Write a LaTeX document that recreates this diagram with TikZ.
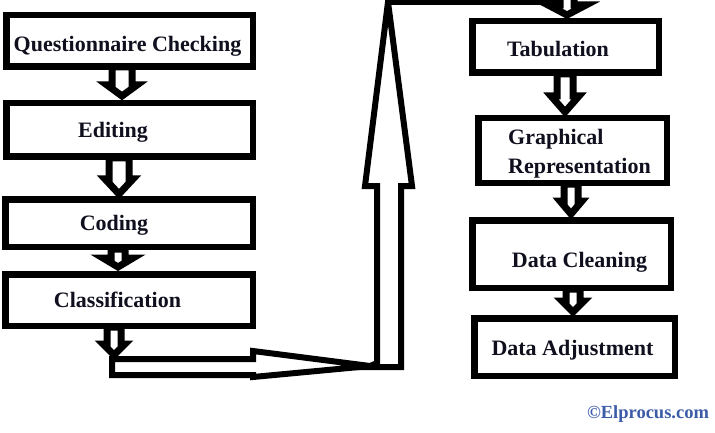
\documentclass[tikz,border=0pt]{standalone}
\usepackage{fontspec}
\setmainfont{Liberation Serif}
\definecolor{wm}{RGB}{60,92,168}
\definecolor{ink}{RGB}{15,15,30}
\newcommand\hdown[6]{\draw[harrow] (#1-#4,#2) -- (#1-#4,#5) -- (#1-#3,#5) -- (#1,#6) -- (#1+#3,#5) -- (#1+#4,#5) -- (#1+#4,#2) -- cycle;}
\begin{document}
\begin{tikzpicture}[x=1pt,y=-1pt,
  box/.style={draw=black,line width=6.5pt,fill=white,inner sep=0pt,rectangle},
  lbl/.style={anchor=base,inner sep=0pt,text=ink,font=\fontsize{22}{28}\selectfont\bfseries},
  harrow/.style={draw=black,line width=7pt,fill=white}]
\useasboundingbox (0,0) rectangle (715,433);
\clip (0,0) rectangle (715,433);
% left column boxes
\node[box,minimum width=246.5pt,minimum height=51.5pt] (qc) at (129.5,41) {};
\node[box,minimum width=246.5pt,minimum height=53.5pt] (ed) at (129.5,130) {};
\node[box,minimum width=247.5pt,minimum height=47.5pt] (co) at (129,223) {};
\node[box,minimum width=247.5pt,minimum height=51.5pt] (cl) at (129,300) {};
% right column boxes
\node[box,minimum width=186.5pt,minimum height=51.5pt] (ta) at (565.5,47) {};
\node[box,minimum width=188.5pt,minimum height=64.5pt] (gr) at (572.5,150.5) {};
\node[box,minimum width=198.5pt,minimum height=67.5pt] (dc) at (571.5,254) {};
\node[box,minimum width=200.5pt,minimum height=57.5pt] (da) at (574.5,347) {};
% labels
\node[lbl] (tqc) at (127.5,52) {Questionnaire Checking};
\node[lbl] (ted) at (113,138) {Editing};
\node[lbl] (tco) at (114,230) {Coding};
\node[lbl] (tcl) at (117.5,307) {Classification};
\node[lbl] (tta) at (558,57) {Tabulation};
\node[lbl,anchor=base west] (tgr1) at (508,145) {Graphical};
\node[lbl,anchor=base west] (tgr2) at (508,173) {Representation};
\node[lbl] (tdc) at (579.5,267) {Data Cleaning};
\node[lbl] (tda) at (572.5,355) {Data Adjustment};
\node[anchor=base,inner sep=0pt,text=wm,font=\fontsize{18.5}{22}\selectfont\bfseries] (wm) at (648,418) {©Elprocus.com};
% hollow arrows between boxes: x, top, headhalf, shafthalf, headbase, tip
\hdown{122}{67}{15}{10}{85}{96}
\hdown{119}{158}{14}{10}{179}{194}
\hdown{118}{249}{15}{7}{258}{267}
\hdown{114}{327}{11}{7}{344}{355}
\hdown{565}{74}{14}{8}{96}{112}
\hdown{571}{184}{11}{7}{201}{214}
\hdown{573}{289}{11}{7}{301}{312}
% long L-shaped hollow arrow
\draw[harrow,line width=6pt] (368,367) -- (401,367) -- (401,186) -- (412,186) -- (388,2) -- (365,186) -- (377,186) -- (377,363) -- cycle;
\draw[harrow,line width=6pt] (112,359) -- (253,359) -- (253,351) -- (370,366) -- (253,377) -- (253,375) -- (112,375) -- cycle;
\draw[black,line width=5pt] (388,2.5) -- (572,2.5);
\hdown{567}{-10}{19}{7}{5}{15}
\end{tikzpicture}
\end{document}
